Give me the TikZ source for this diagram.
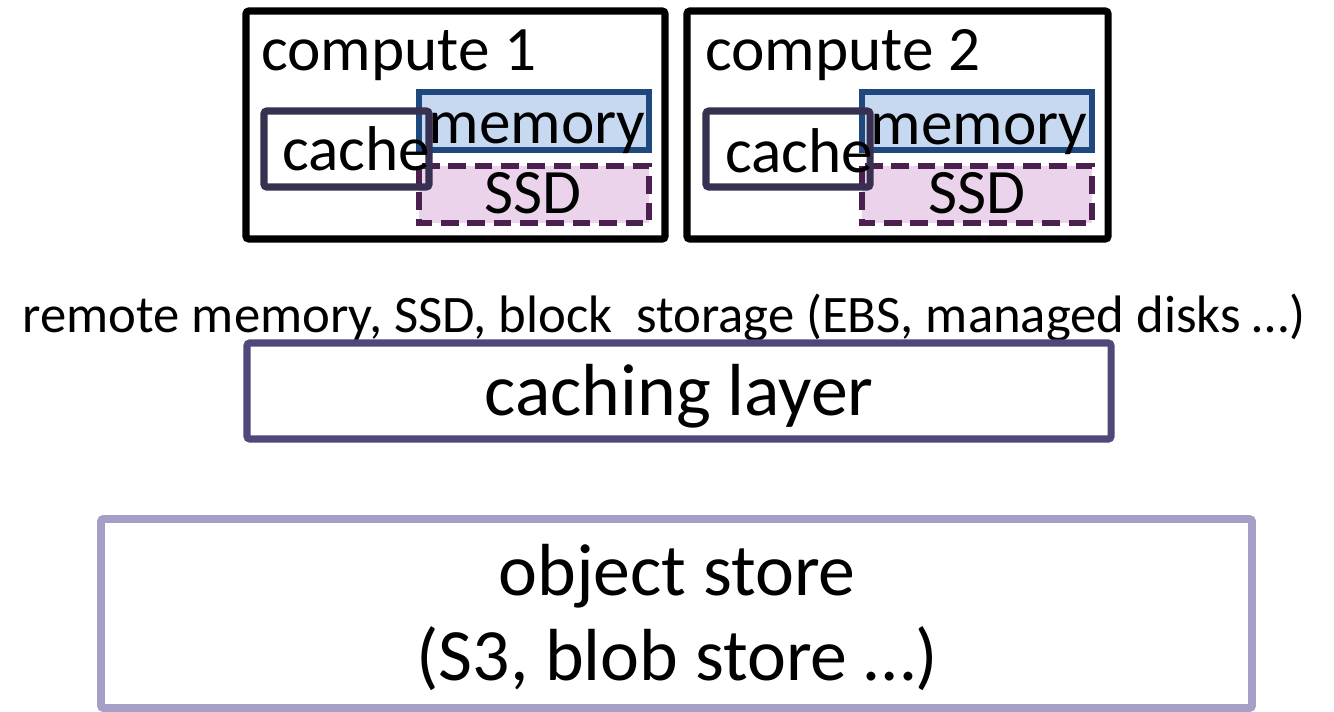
\documentclass[tikz,border=0pt]{standalone}
\usepackage{fontspec}
\setmainfont{Carlito}
\usepackage{tikz}
\usetikzlibrary{positioning}
\definecolor{cachecol}{RGB}{56,48,80}
\definecolor{memfill}{RGB}{198,217,241}
\definecolor{memdraw}{RGB}{31,73,125}
\definecolor{ssdfill}{RGB}{234,211,235}
\definecolor{ssddraw}{RGB}{75,31,78}
\definecolor{layercol}{RGB}{80,72,120}
\definecolor{storecol}{RGB}{165,159,200}
\tikzstyle{computebox} = [draw=black,line width=4pt,rounded corners=1.5pt]
\tikzstyle{cachebox} = [draw=cachecol,line width=4pt,rounded corners=1.5pt]
\tikzstyle{membox} = [draw=memdraw,fill=memfill,line width=3.2pt]
\tikzstyle{ssdbox} = [draw=ssddraw,fill=ssdfill,line width=3.2pt,dash pattern=on 10pt off 5pt]
\tikzstyle{layerbox} = [draw=layercol,line width=4pt,rounded corners=1.5pt]
\tikzstyle{storebox} = [draw=storecol,line width=4.5pt,rounded corners=1.5pt]
\tikzstyle{lbl} = [inner sep=0pt,font=\fontsize{36}{43}\selectfont]

\begin{document}
\begin{tikzpicture}[x=0.02cm,y=-0.02cm]
	\useasboundingbox (0,0) rectangle (1334,711);

	% compute 1
	\draw[computebox] (246,11) rectangle (665,239);
	\node[lbl,anchor=base west] (C1) at (261,70) {compute 1};
	\draw[membox] (419,92) rectangle (649,150);
	\node[lbl,anchor=base] (M1) at (537,143) {memory};
	\draw[ssdbox] (419,166) rectangle (649,223);
	\node[lbl,anchor=base] (S1) at (533,213) {SSD};
	\draw[cachebox] (264,111) rectangle (429,187);
	\node[lbl,anchor=base west] (K1) at (282,170) {cache};

	% compute 2
	\draw[computebox] (687,11) rectangle (1108,239);
	\node[lbl,anchor=base west] (C2) at (705,70) {compute 2};
	\draw[membox] (862,92) rectangle (1092,150);
	\node[lbl,anchor=base] (M2) at (979,144) {memory};
	\draw[ssdbox] (862,166) rectangle (1092,223);
	\node[lbl,anchor=base] (S2) at (977,213) {SSD};
	\draw[cachebox] (706,111) rectangle (870,187);
	\node[lbl,anchor=base west] (K2) at (725,172) {cache};

	\node[inner sep=0pt,anchor=base,font=\fontsize{30}{36}\selectfont] (R) at (664,332)
		{remote memory, SSD, block\ \ storage (EBS, managed disks …)};

	\draw[layerbox] (247,343) rectangle (1111,439);
	\node[inner sep=0pt,anchor=base,font=\fontsize{42}{50}\selectfont] (L) at (679,415) {caching layer};

	\draw[storebox] (101,519) rectangle (1252,708);
	\node[inner sep=0pt,anchor=base,font=\fontsize{42}{50}\selectfont] (O1) at (677,595) {object store};
	\node[inner sep=0pt,anchor=base,font=\fontsize{42}{50}\selectfont] (O2) at (677,680) {(S3, blob store …)};
\end{tikzpicture}
\end{document}
